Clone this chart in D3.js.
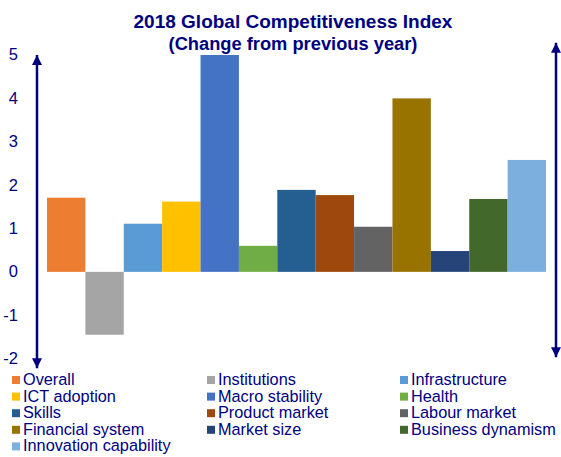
<!DOCTYPE html>
<html>
<head>
<meta charset="utf-8">
<script src="https://cdn.jsdelivr.net/npm/d3@7"></script>
<style>
  html, body { margin: 0; padding: 0; background: #fff; }
  svg { display: block; font-family: "Liberation Sans", Arial, sans-serif; }
</style>
</head>
<body>
<svg id="chart" width="561" height="457"></svg>
<script>
// Pillars of the index and their change from the previous year
const categories = [
  "Overall", "Institutions", "Infrastructure", "ICT adoption", "Macro stability",
  "Health", "Skills", "Product market", "Labour market", "Financial system",
  "Market size", "Business dynamism", "Innovation capability"
];
const values = [1.71, -1.45, 1.11, 1.62, 5.0, 0.6, 1.89, 1.77, 1.04, 4.0, 0.48, 1.68, 2.58];
const colors = [
  "#ED7D31", "#A5A5A5", "#5B9BD5", "#FFC000", "#4472C4", "#70AD47", "#255E91",
  "#9E480E", "#636363", "#997300", "#264478", "#43682B", "#7CAFDD"
];
const tickValues = [-2, -1, 0, 1, 2, 3, 4, 5];

const navy = "#00007F";
const svg = d3.select("#chart");

const x = d3.scaleBand().domain(categories).range([47, 546]).padding(0);
const y = d3.scaleLinear().domain([-2, 5]).range([358.6, 55]);

// Title
svg.append("text")
  .attr("x", 293).attr("y", 27.5)
  .attr("text-anchor", "middle")
  .attr("font-weight", "bold").attr("font-size", 19)
  .attr("fill", navy)
  .text("2018 Global Competitiveness Index");
svg.append("text")
  .attr("x", 293).attr("y", 49.5)
  .attr("text-anchor", "middle")
  .attr("font-weight", "bold").attr("font-size", 18.3)
  .attr("fill", navy)
  .text("(Change from previous year)");

// Value axis labels (no axis line; the arrow stands in for it)
const axis = d3.axisLeft(y).tickValues(tickValues).tickSize(0).tickPadding(0).tickFormat(d => String(d));
const gAxis = svg.append("g").attr("transform", "translate(18,0)").call(axis);
gAxis.select(".domain").remove();
gAxis.selectAll("text")
  .attr("fill", navy)
  .attr("font-size", 16.5)
  .attr("font-family", "Liberation Sans, Arial, sans-serif")
  .attr("dy", "0.3em");

// Bars
svg.append("g").selectAll("rect")
  .data(categories)
  .join("rect")
  .attr("x", d => x(d))
  .attr("width", x.bandwidth())
  .attr("y", (d, i) => y(Math.max(0, values[i])))
  .attr("height", (d, i) => Math.abs(y(values[i]) - y(0)))
  .attr("fill", (d, i) => colors[i]);

// Double-headed arrows
const defs = svg.append("defs");
defs.append("marker")
  .attr("id", "arrow")
  .attr("viewBox", "0 0 10 10")
  .attr("refX", 10).attr("refY", 5)
  .attr("markerUnits", "userSpaceOnUse")
  .attr("markerWidth", 10).attr("markerHeight", 10)
  .attr("orient", "auto-start-reverse")
  .append("path")
  .attr("d", "M0,0 L10,5 L0,10 Z")
  .attr("fill", navy);

function doubleArrow(xPos, yTop, yBottom) {
  svg.append("line")
    .attr("x1", xPos).attr("x2", xPos)
    .attr("y1", yTop).attr("y2", yBottom)
    .attr("stroke", navy).attr("stroke-width", 2.5)
    .attr("marker-start", "url(#arrow)")
    .attr("marker-end", "url(#arrow)");
}
doubleArrow(37, y(5), y(-2.22));
doubleArrow(556, y(5.28), y(-1.97));

// Legend: three columns, row-major order
const legendCols = [12, 207, 400];
const legendRow0 = 385;
const legendRowStep = 16.6;
const legend = svg.append("g").selectAll("g")
  .data(categories)
  .join("g")
  .attr("transform", (d, i) => `translate(${legendCols[i % 3]},${legendRow0 + Math.floor(i / 3) * legendRowStep})`);
legend.append("rect")
  .attr("x", 0).attr("y", -9)
  .attr("width", 8).attr("height", 8)
  .attr("fill", (d, i) => colors[i]);
legend.append("text")
  .attr("x", 11).attr("y", 0)
  .attr("font-size", 16.3)
  .attr("fill", navy)
  .text(d => d);
</script>
</body>
</html>
